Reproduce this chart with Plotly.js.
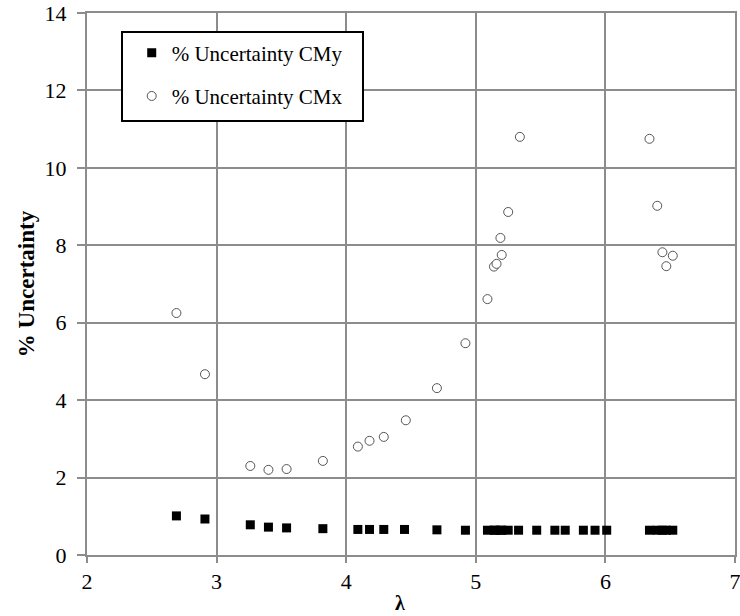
<!DOCTYPE html>
<html>
<head>
<meta charset="utf-8">
<script src="https://cdn.plot.ly/plotly-3.0.1.min.js"></script>
<style>html,body{margin:0;padding:0;background:#fff;}#chart{width:740px;height:616px;}</style>
</head>
<body>
<div id="chart"></div>
<script>
// Data
const lambdaY = [2.69, 2.91, 3.26, 3.40, 3.54, 3.82, 4.09, 4.18, 4.29, 4.45, 4.70, 4.92,
  5.09, 5.14, 5.15, 5.19, 5.20, 5.25, 5.33, 5.47, 5.61, 5.69, 5.83, 5.92, 6.01,
  6.34, 6.40, 6.44, 6.47, 6.52];
const uncCMy = [1.01, 0.93, 0.78, 0.72, 0.70, 0.68, 0.66, 0.66, 0.66, 0.66, 0.65, 0.64,
  0.64, 0.64, 0.64, 0.64, 0.64, 0.64, 0.64, 0.64, 0.64, 0.64, 0.64, 0.64, 0.64,
  0.64, 0.64, 0.64, 0.64, 0.64];
const lambdaX = [2.69, 2.91, 3.26, 3.40, 3.54, 3.82, 4.09, 4.18, 4.29, 4.46, 4.70, 4.92,
  5.09, 5.14, 5.16, 5.19, 5.20, 5.25, 5.34, 6.34, 6.40, 6.44, 6.47, 6.52];
const uncCMx = [6.25, 4.67, 2.30, 2.20, 2.22, 2.43, 2.80, 2.95, 3.05, 3.48, 4.31, 5.47,
  6.61, 7.45, 7.52, 8.19, 7.75, 8.86, 10.80, 10.75, 9.02, 7.82, 7.46, 7.73];
const seriesNames = ['% Uncertainty CMy', '% Uncertainty CMx'];
const xTicks = [2, 3, 4, 5, 6, 7];
const yTicks = [0, 2, 4, 6, 8, 10, 12, 14];
const xTitle = 'λ';
const yTitle = '% Uncertainty';

const serif = 'Liberation Serif, Times New Roman, serif';
const traces = [
  {x: lambdaY, y: uncCMy, name: seriesNames[0], type: 'scatter', mode: 'markers',
   legendgroup: 'a',
   marker: {symbol: 'square', size: 9, color: '#000000', line: {width: 0}}},
  {x: lambdaX, y: uncCMx, name: seriesNames[1], type: 'scatter', mode: 'markers',
   legendgroup: 'b',
   marker: {symbol: 'circle', size: 9, color: '#ffffff', line: {width: 1, color: '#555555'}}}
];
const gridColor = '#8c8c8c';
const layout = {
  width: 740, height: 616,
  margin: {l: 87, r: 5, t: 13, b: 61},
  paper_bgcolor: '#ffffff', plot_bgcolor: '#ffffff',
  font: {family: serif, size: 21, color: '#000'},
  showlegend: true,
  legend: {x: 0.069, y: 0.964, xanchor: 'left', yanchor: 'top',
    bgcolor: 'rgba(0,0,0,0)', borderwidth: 0, traceorder: 'grouped', tracegroupgap: 13,
    font: {family: serif, size: 21, color: '#000'}},
  xaxis: {range: [2, 7], tickvals: xTicks, ticktext: xTicks.map(String),
    showgrid: true, gridcolor: gridColor, gridwidth: 2,
    showline: true, linecolor: gridColor, linewidth: 2, mirror: true,
    ticks: 'outside', ticklen: 6, tickcolor: gridColor, tickwidth: 2,
    ticklabelstandoff: 0, ticklabeloverflow: 'allow',
    zeroline: false, fixedrange: true,
    tickfont: {family: serif, size: 22, color: '#000'}},
  yaxis: {range: [0, 14], tickvals: yTicks, ticktext: yTicks.map(String),
    showgrid: true, gridcolor: gridColor, gridwidth: 2,
    showline: true, linecolor: gridColor, linewidth: 2, mirror: true,
    ticks: 'outside', ticklen: 8, tickcolor: gridColor, tickwidth: 2,
    ticklabelstandoff: 6,
    zeroline: false, fixedrange: true,
    tickfont: {family: serif, size: 22, color: '#000'},
    title: {text: '<b>' + yTitle + '</b>', font: {family: serif, size: 23, color: '#000'}, standoff: 4}},
  annotations: [{text: '<b>' + xTitle + '</b>', xref: 'paper', yref: 'paper',
    x: 0.483, y: -0.0886, xanchor: 'center', yanchor: 'middle', showarrow: false,
    font: {family: serif, size: 20, color: '#000'}}],
  shapes: [{type: 'rect', xref: 'paper', yref: 'paper',
    x0: (122 - 87) / 648, x1: (363 - 87) / 648, y0: (555 - 121) / 542, y1: (555 - 32) / 542,
    line: {color: '#000', width: 2}, fillcolor: '#ffffff', layer: 'above'}]
};
Plotly.newPlot('chart', traces, layout, {displayModeBar: false, staticPlot: true});
</script>
</body>
</html>
